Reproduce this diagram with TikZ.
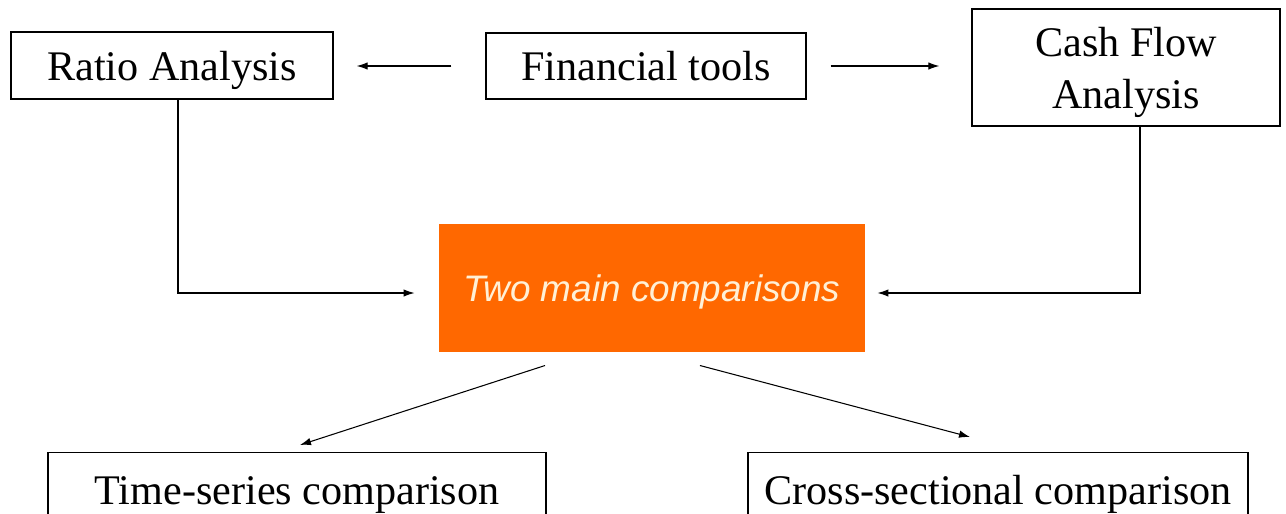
\documentclass[tikz,border=0pt]{standalone}
\usepackage{fontspec}
\setmainfont{Liberation Serif}
\newfontfamily\labelsans{Liberation Sans}
\usetikzlibrary{positioning,arrows.meta}
\definecolor{boxorange}{RGB}{255,104,0}
\definecolor{labelcream}{RGB}{255,240,214}
\tikzset{
  toolbox/.style={draw, line width=0.8pt, inner sep=0pt, align=center, text depth=0pt,
    font=\fontsize{24}{29.5}\selectfont},
  mainbox/.style={fill=boxorange, inner sep=0pt, text=labelcream, text depth=0pt,
    font=\labelsans\itshape\fontsize{21}{25}\selectfont},
}
\begin{document}
\begin{tikzpicture}[x=0.02cm, y=-0.02cm, >={Latex[length=2.2mm,width=1.5mm]}, line width=0.6pt]
\clip (0,0) rectangle (1286,514);
\useasboundingbox (0,0) rectangle (1286,514);

% top row
\node[toolbox, minimum width=6.44cm, minimum height=1.34cm] (ratio) at (172,65.5) {Ratio Analysis};
\node[toolbox, minimum width=6.4cm, minimum height=1.32cm] (tools) at (646,66) {Financial tools};
\node[toolbox, minimum width=6.16cm, minimum height=2.34cm] (cash) at (1126,67.5) {Cash Flow\\Analysis};

% middle
\node[mainbox, minimum width=8.52cm, minimum height=2.56cm] (main) at (652,288) {Two main comparisons};

% bottom row
\node[toolbox, anchor=north, minimum width=9.96cm, minimum height=1.5cm] (timeser) at (297,452) {Time-series comparison};
\node[toolbox, anchor=north, minimum width=10cm, minimum height=1.5cm] (crosssec) at (998,452) {Cross-sectional comparison};

\draw[ ->, shorten <=0.68cm, shorten >=0.46cm] (tools.west) -- (tools.west -| ratio.east);
\draw[ ->, shorten <=0.48cm, shorten >=0.64cm] (tools.east) -- (tools.east -| cash.west);

\coordinate (rbend) at (178,293);
\coordinate (cbend) at (1140,293);
\draw[ ->, shorten >=0.48cm] (rbend |- ratio.south) -- (rbend) -- (main.west |- rbend);
\draw[ ->, shorten >=0.24cm] (cbend |- cash.south) -- (cbend) -- (main.east |- cbend);

\draw[ ->] ([xshift=-2.14cm, yshift=-0.26cm]main.south) -- ([xshift=0.06cm, yshift=0.14cm]timeser.north);
\draw[ ->] ([xshift=0.96cm, yshift=-0.26cm]main.south) -- ([xshift=-0.56cm, yshift=0.3cm]crosssec.north);
\end{tikzpicture}
\end{document}
